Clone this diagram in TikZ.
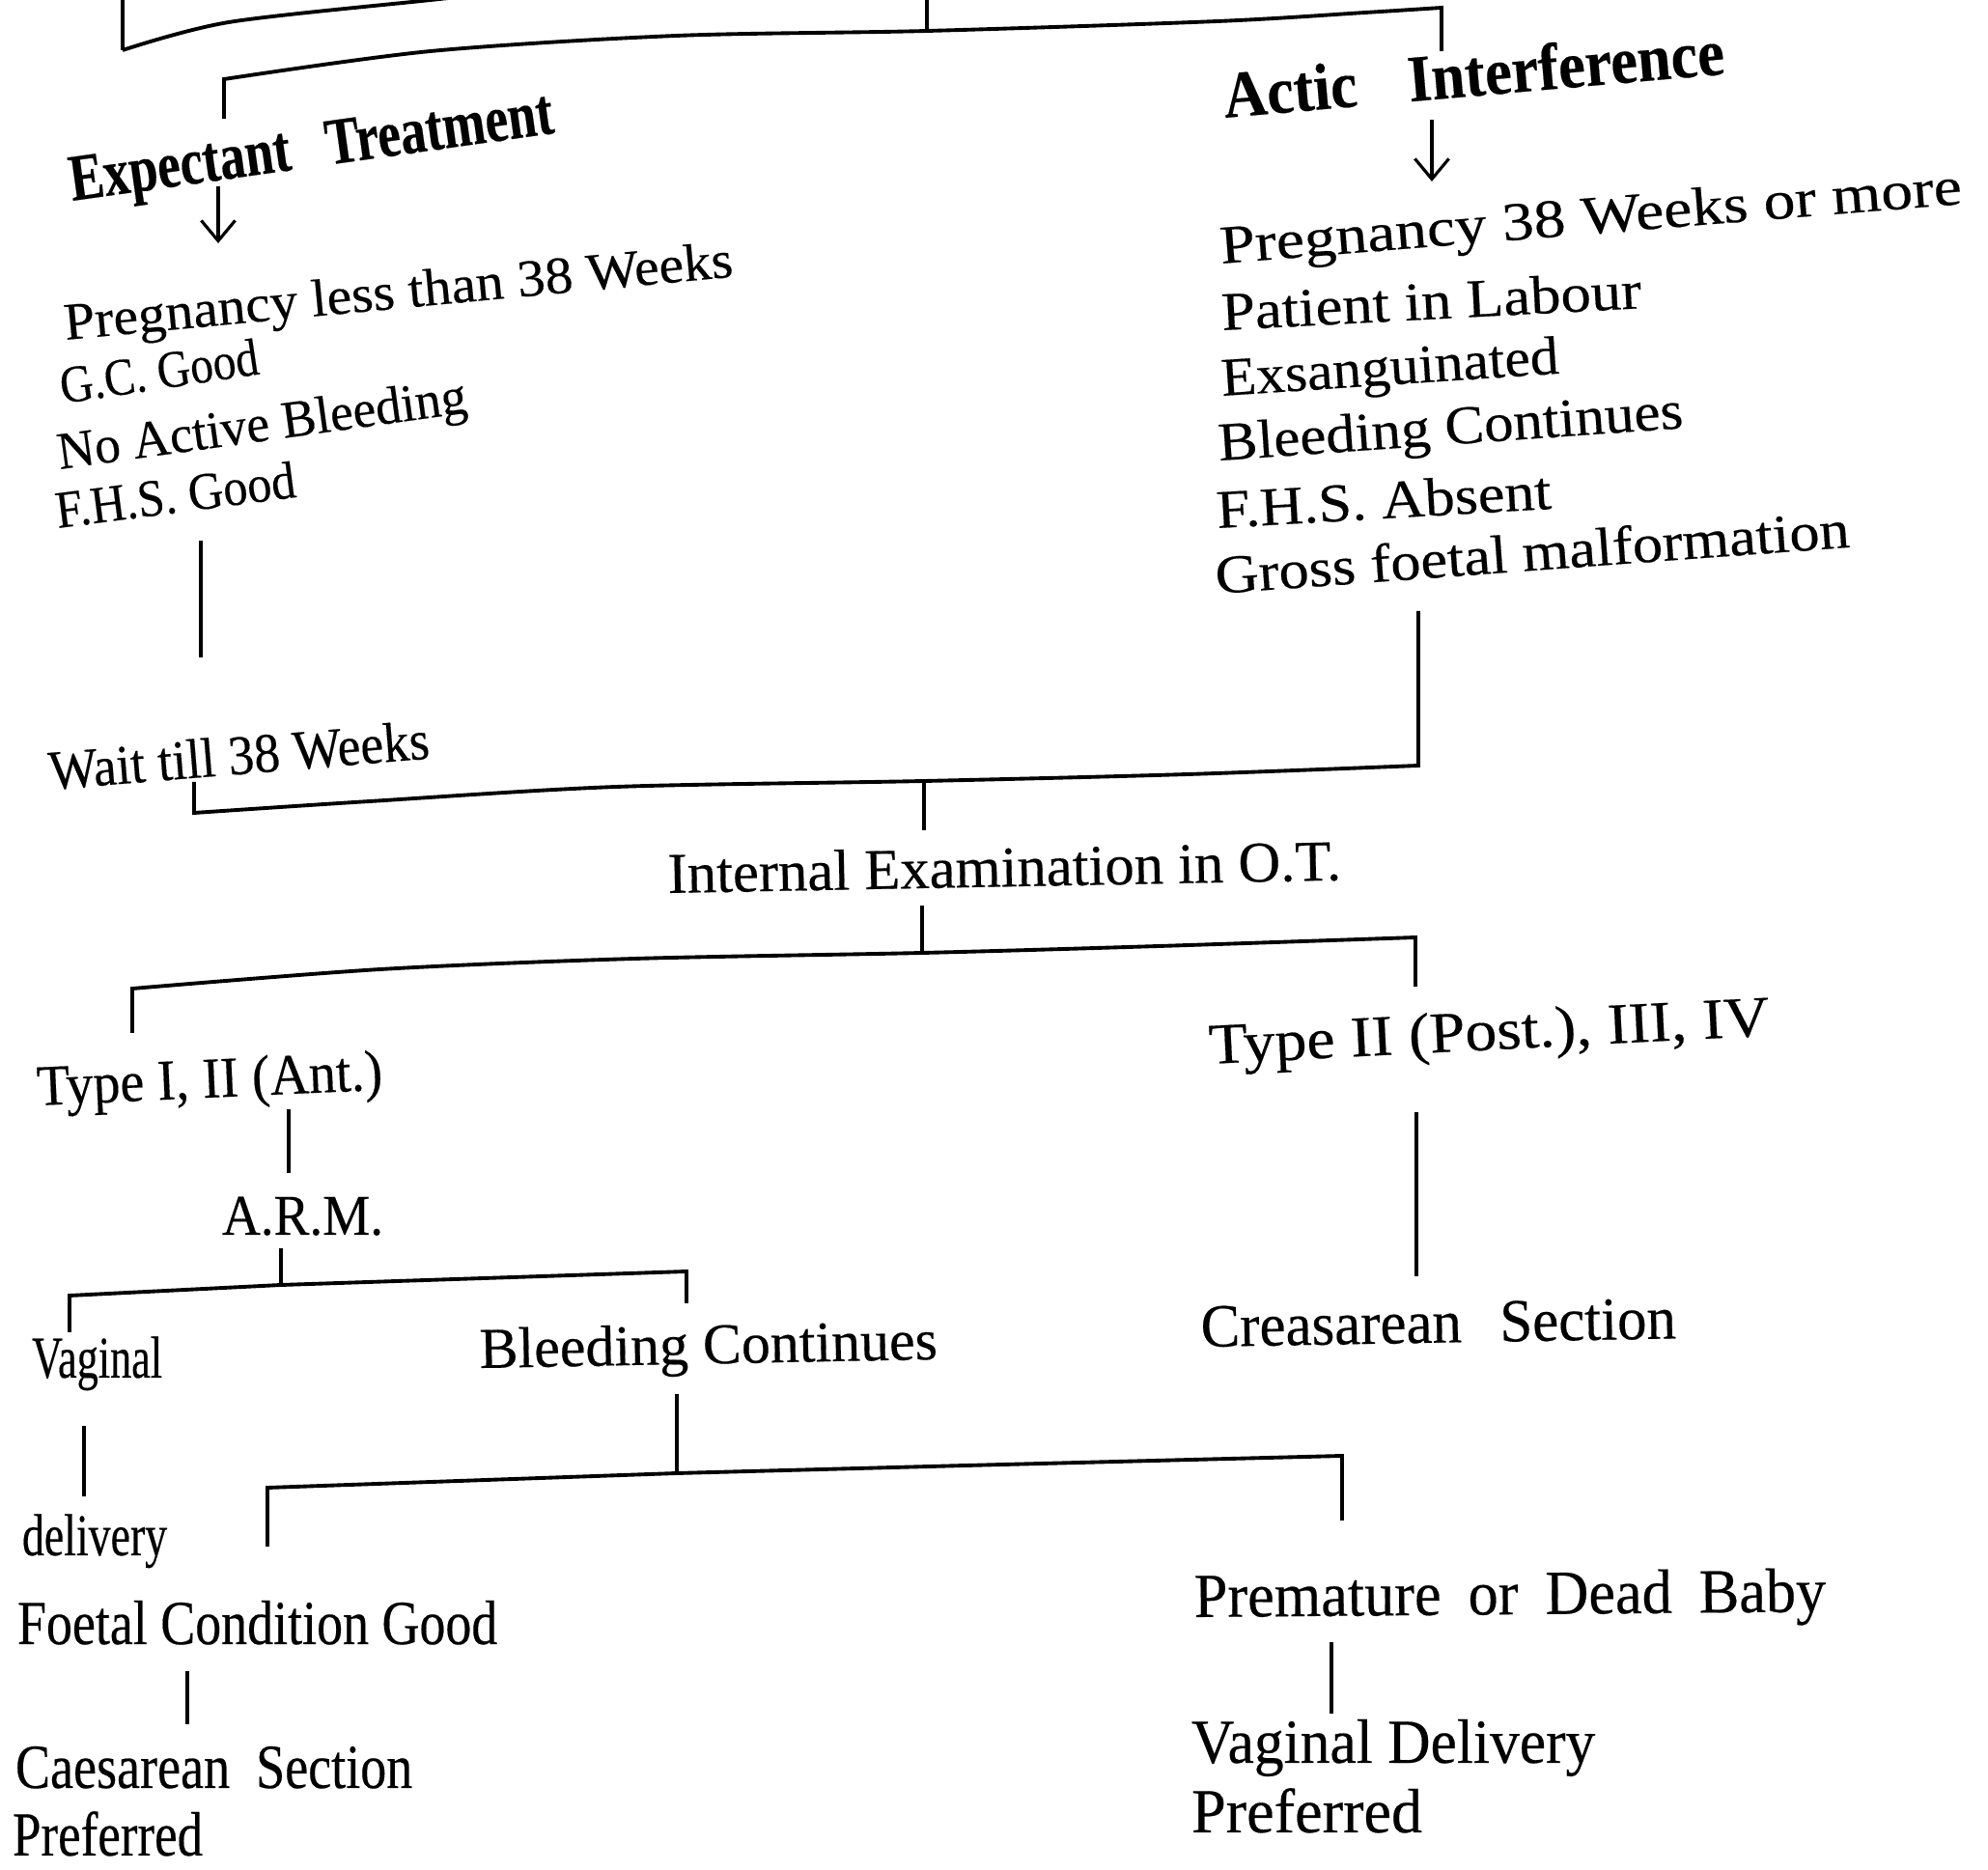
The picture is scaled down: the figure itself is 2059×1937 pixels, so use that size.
\documentclass[tikz,border=0pt]{standalone}
\usepackage{fontspec}
\setmainfont{Liberation Serif}[FakeBold=0.3]
\usepackage{graphicx}
\usepackage{xfp}
\usetikzlibrary{arrows.meta}

% set #3 at #1 pt and stretch it horizontally to #2 hundredths of a cm
\newlength\fitnat
\newcommand\fitto[3]{%
  \settowidth\fitnat{\fontsize{#1}{#1}\selectfont #3}%
  \scalebox{\fpeval{(#2*0.01cm)/(\fitnat)}}[1]{\fontsize{#1}{#1}\selectfont #3}}

\begin{document}
\begin{tikzpicture}[x=0.01cm,y=-0.01cm,
  txt/.style={inner sep=0pt,outer sep=0pt,anchor=base west},
  brk/.style={line width=1.1pt,line join=miter},
  stem/.style={line width=0.9pt},
  arr/.style={line width=0.9pt,-{Straight Barb[length=6pt,width=10pt,line width=0.9pt]}}]
\useasboundingbox (0,0) rectangle (2059,1937);
\fill[white] (0,0) rectangle (2059,1937);
\clip (0,0) rectangle (2059,1937);

% ---------- text ----------
\node[txt,rotate=8]   (exp) at (75,208)   {\fitto{19.5}{505}{\bfseries Expectant\hspace{0.45em} Treatment}};
\node[txt,rotate=5]   (act) at (1269,122) {\fitto{19.5}{520}{\bfseries Actic\hspace{0.6em} Interference}};

\node[txt,rotate=5.4] (pl1) at (68,352)  {\fitto{15.5}{695}{Pregnancy less than 38 Weeks}};
\node[txt,rotate=8.5] (gc)  at (65,418)  {\fitto{15.5}{207}{G.C. Good}};
\node[txt,rotate=7.9] (nab) at (62,486)  {\fitto{15.5}{427}{No Active Bleeding}};
\node[txt,rotate=7.4] (fhs) at (60,547)  {\fitto{15.5}{250}{F.H.S. Good}};
\node[txt,rotate=4.7] (wait) at (52,818) {\fitto{16.5}{395}{Wait till 38 Weeks}};

\node[txt,rotate=4.6] (r1) at (1265,273) {\fitto{16}{770}{Pregnancy 38 Weeks or more}};
\node[txt,rotate=3]   (r2) at (1266,342) {\fitto{16}{435}{Patient in Labour}};
\node[txt,rotate=3.8] (r3) at (1266,410) {\fitto{16}{350}{Exsanguinated}};
\node[txt,rotate=4]   (r4) at (1263,477) {\fitto{16}{482}{Bleeding Continues}};
\node[txt,rotate=3.3] (r5) at (1261,547) {\fitto{16}{347}{F.H.S. Absent}};
\node[txt,rotate=4.2] (r6) at (1260,615) {\fitto{16}{658}{Gross foetal malformation}};

\node[txt,rotate=1.1] (ie) at (692,925) {\fitto{17}{697}{Internal Examination in O.T.}};

\node[txt,rotate=2.6] (t1)  at (39,1145)   {\fitto{17}{358}{Type I, II (Ant.)}};
\node[txt]            (arm) at (230,1279)  {\fitto{17}{167}{A.R.M.}};
\node[txt,rotate=2.9] (t2)  at (1253,1102) {\fitto{17}{581}{Type II (Post.), III, IV}};
\node[txt]            (vag) at (33,1427)   {\fitto{17.5}{135}{Vaginal}};
\node[txt,rotate=1.1] (bc)  at (497,1417)  {\fitto{17}{474}{Bleeding Continues}};
\node[txt,rotate=1]   (cs)  at (1244,1395) {\fitto{18}{492}{Creasarean\hspace{0.4em} Section}};
\node[txt]            (del) at (23,1611)   {\fitto{17.5}{150}{delivery}};

\node[txt] (fcg)   at (18,1703)   {\fitto{18.5}{497}{Foetal Condition Good}};
\node[txt] (csp)   at (16,1852)   {\fitto{18.5}{411}{Caesarean\hspace{0.25em} Section}};
\node[txt] (pref1) at (13,1922)   {\fitto{18.5}{197}{Preferred}};
\node[txt,rotate=0.5] (pdb) at (1237,1675) {\fitto{18.5}{654}{Premature\hspace{0.2em} or\hspace{0.2em} Dead\hspace{0.2em} Baby}};
\node[txt] (vd)    at (1234,1826) {\fitto{18.5}{418}{Vaginal Delivery}};
\node[txt] (pref2) at (1234,1898) {\fitto{18.5}{239}{Preferred}};

% ---------- junction points and line ends ----------
\coordinate (up0)  at (127,0);
\coordinate (up0b) at (127,52);
\coordinate (in1)  at (960,0);
\coordinate (j1)   at (960,32);
\coordinate (j1l)  at (232,123);
\coordinate (j1r)  at (1493,53);
\coordinate (a1s)  at (226,193);
\coordinate (a1e)  at (226,252);
\coordinate (a2s)  at (1483,124);
\coordinate (a2e)  at (1483,188);
\coordinate (l1s)  at (208,560);
\coordinate (l1e)  at (208,681);
\coordinate (j2l)  at (201,810);
\coordinate (j2r)  at (1469,633);
\coordinate (j2)   at (957,809);
\coordinate (ieT)  at (957,860);
\coordinate (ieB)  at (955,938);
\coordinate (j3)   at (955,987);
\coordinate (j3l)  at (137,1070);
\coordinate (j3r)  at (1466,1022);
\coordinate (t1B)  at (299,1149);
\coordinate (armT) at (299,1215);
\coordinate (armB) at (291,1293);
\coordinate (j4)   at (291,1331);
\coordinate (j4l)  at (72,1380);
\coordinate (j4r)  at (711,1350);
\coordinate (vagB) at (87,1477);
\coordinate (delT) at (87,1550);
\coordinate (bcB)  at (701,1444);
\coordinate (j5)   at (701,1526);
\coordinate (j5l)  at (277,1602);
\coordinate (j5r)  at (1390,1575);
\coordinate (t2B)  at (1467,1152);
\coordinate (csT)  at (1467,1322);
\coordinate (fcgB) at (194,1731);
\coordinate (cspT) at (194,1786);
\coordinate (pdbB) at (1379,1701);
\coordinate (vdT)  at (1379,1775);

% ---------- connectors ----------
% bracket coming in from above
\draw[brk] (up0) -- (up0b) plot[smooth] coordinates {(127,52) (237,23) (446,0) (540,-10)};
\draw[stem] (in1) -- (j1);
\draw[brk] (j1l) -- plot[smooth] coordinates {(232,82) (446,53) (700,37) (960,32) (1261,22) (1414,13) (1493,8)} -- (j1r);

\draw[arr] (a1s) -- (a1e);
\draw[arr] (a2s) -- (a2e);

\draw[stem] (l1s) -- (l1e);
\draw[brk] (j2l) -- plot[smooth] coordinates {(201,842) (383,830) (638,815) (957,809) (1230,802) (1469,793)} -- (j2r);
\draw[stem] (j2) -- (ieT);

\draw[stem] (ieB) -- (j3);
\draw[brk] (j3l) -- plot[smooth] coordinates {(137,1024) (394,1004) (657,993) (955,987) (1200,980) (1466,971)} -- (j3r);

\draw[stem] (t1B) -- (armT);
\draw[stem] (armB) -- (j4);
\draw[brk] (j4l) -- (72,1342) -- (j4) -- (711,1317) -- (j4r);

\draw[stem] (vagB) -- (delT);
\draw[stem] (bcB) -- (j5);
\draw[brk] (j5l) -- (277,1541) -- (j5) -- (1000,1518) -- (1390,1508) -- (j5r);

\draw[stem] (t2B) -- (csT);
\draw[stem] (fcgB) -- (cspT);
\draw[stem] (pdbB) -- (vdT);
\end{tikzpicture}
\end{document}
